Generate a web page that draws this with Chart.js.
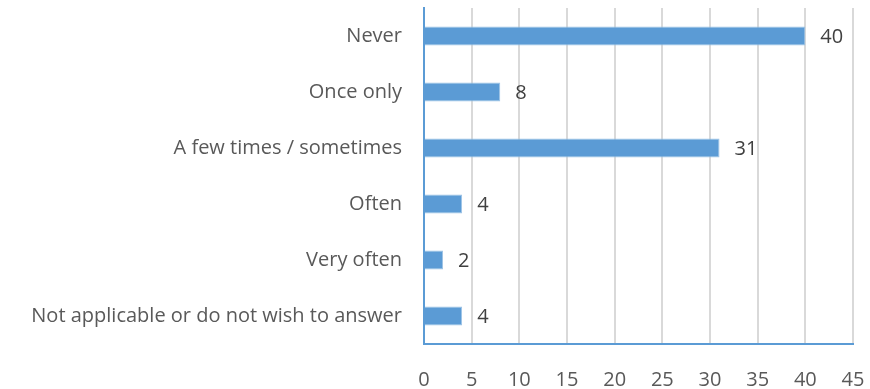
<!DOCTYPE html>
<html>
<head>
<meta charset="utf-8">
<script src="https://cdn.jsdelivr.net/npm/chart.js@4/dist/chart.umd.min.js"></script>
<style>
  html, body { margin: 0; padding: 0; background: #fff; }
  #wrap { width: 870px; height: 389px; }
</style>
</head>
<body>
<div id="wrap"><canvas id="freqChart"></canvas></div>
<script>
const categories = [
  "Never",
  "Once only",
  "A few times / sometimes",
  "Often",
  "Very often",
  "Not applicable or do not wish to answer"
];
const counts = [40, 8, 31, 4, 2, 4];
const xTicks = [0, 5, 10, 15, 20, 25, 30, 35, 40, 45];

const FONT = "'Open Sans', sans-serif";
const FONT_SIZE = 20;

// writes the count just past the end of each bar
const valueLabels = {
  id: "valueLabels",
  afterDatasetsDraw(chart) {
    const ctx = chart.ctx;
    const meta = chart.getDatasetMeta(0);
    ctx.save();
    ctx.font = FONT_SIZE + "px " + FONT;
    ctx.fillStyle = "#404040";
    ctx.textAlign = "left";
    ctx.textBaseline = "middle";
    meta.data.forEach((bar, i) => {
      ctx.fillText(String(counts[i]), bar.x + 15, bar.y + 1);
    });
    ctx.restore();
  }
};

new Chart(document.getElementById("freqChart"), {
  type: "bar",
  data: {
    labels: categories,
    datasets: [{
      data: counts,
      backgroundColor: "#5B9BD5",
      borderColor: "#9DC3E6",
      borderWidth: 1,
      barPercentage: 0.34,
      categoryPercentage: 1
    }]
  },
  options: {
    indexAxis: "y",
    responsive: true,
    maintainAspectRatio: false,
    animation: false,
    layout: { padding: { top: 8, right: 17, left: 0, bottom: 0 } },
    plugins: {
      legend: { display: false },
      tooltip: { enabled: false }
    },
    scales: {
      x: {
        min: 0,
        max: 45,
        afterBuildTicks(scale) {
          scale.ticks = xTicks.map((v) => ({ value: v }));
        },
        afterFit(scale) {
          scale.height = 45;
          scale.paddingLeft = 0;
          scale.paddingRight = 0;
        },
        grid: {
          color: "#D9D9D9",
          lineWidth: 2,
          drawTicks: false
        },
        border: { color: "#5B9BD5", width: 2 },
        ticks: {
          color: "#595959",
          font: { family: FONT, size: FONT_SIZE },
          padding: 24,
          maxRotation: 0
        }
      },
      y: {
        afterFit(scale) {
          scale.width = 424;
          scale.paddingTop = 0;
          scale.paddingBottom = 0;
        },
        grid: { display: false, drawTicks: false },
        border: { color: "#5B9BD5", width: 2 },
        ticks: {
          color: "#595959",
          font: { family: FONT, size: FONT_SIZE },
          padding: 22
        }
      }
    }
  },
  plugins: [valueLabels]
});
</script>
</body>
</html>
